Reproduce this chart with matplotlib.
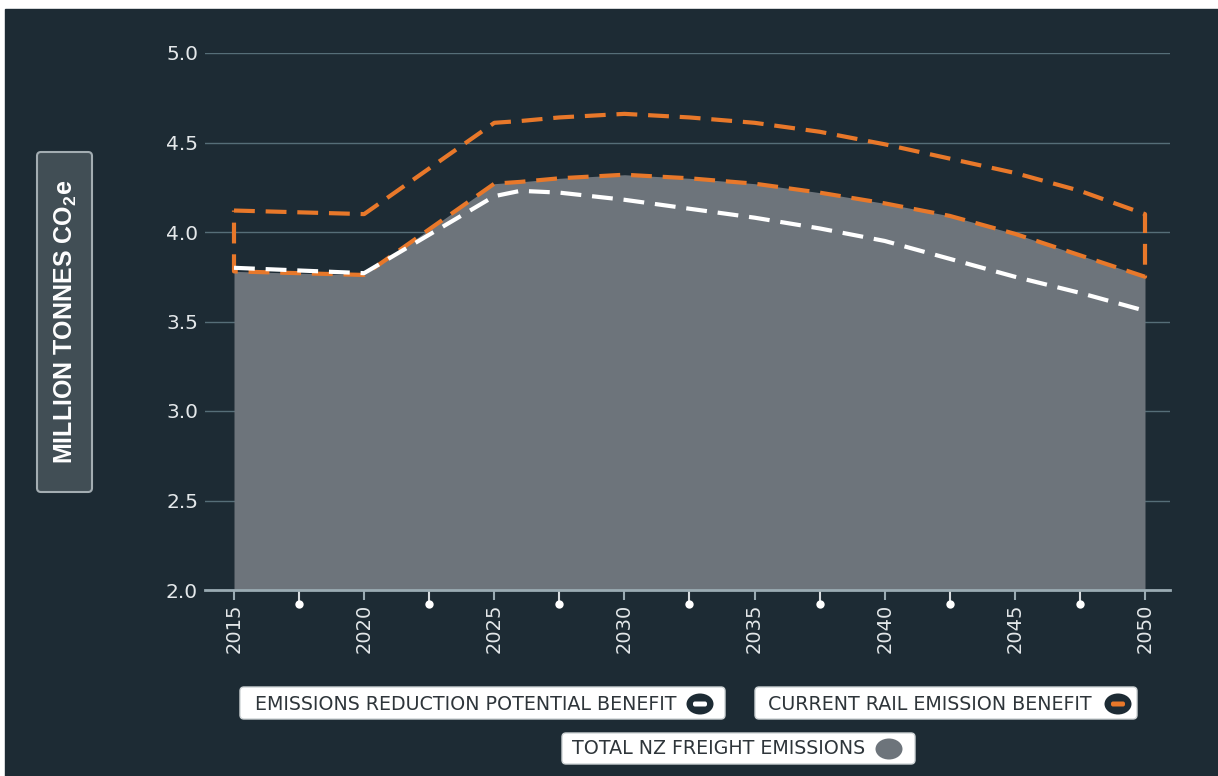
import matplotlib
matplotlib.use("Agg")
import matplotlib.pyplot as plt
from matplotlib import font_manager
from matplotlib.patches import FancyBboxPatch, Rectangle, Ellipse

# values (million tonnes CO2e)
years = [2015, 2020, 2025, 2026, 2027.5, 2030, 2032.5, 2035, 2037.5, 2040, 2042.5, 2045, 2047.5, 2050]
total_freight = [3.78, 3.76, 4.27, 4.28, 4.30, 4.32, 4.30, 4.27, 4.22, 4.16, 4.09, 3.99, 3.87, 3.75]
with_rail_benefit = [4.12, 4.10, 4.61, 4.62, 4.64, 4.66, 4.64, 4.61, 4.56, 4.49, 4.41, 4.33, 4.23, 4.10]
reduction_potential = [3.80, 3.77, 4.20, 4.23, 4.22, 4.18, 4.13, 4.08, 4.02, 3.95, 3.85, 3.75, 3.66, 3.56]

major_years = [2015, 2020, 2025, 2030, 2035, 2040, 2045, 2050]
minor_years = [2017.5, 2022.5, 2027.5, 2032.5, 2037.5, 2042.5, 2047.5]
y_ticks = [2.0, 2.5, 3.0, 3.5, 4.0, 4.5, 5.0]

legend_labels = ["EMISSIONS REDUCTION POTENTIAL BENEFIT", "CURRENT RAIL EMISSION BENEFIT", "TOTAL NZ FREIGHT EMISSIONS"]

bg = "#1d2b34"
grey = "#6d747b"
orange = "#e8782a"
light = "#e4e8ea"

W, H = 1218, 776

def has_font(name):
    try:
        font_manager.findfont(name, fallback_to_default=False)
        return True
    except Exception:
        return False

if has_font("Liberation Sans Narrow"):
    label_font, label_size = "Liberation Sans Narrow", 22
else:
    label_font, label_size = "Liberation Sans", 18

plt.rcParams["font.family"] = ["DejaVu Sans"]
plt.rcParams["mathtext.default"] = "regular"

fig = plt.figure(figsize=(W / 100, H / 100), dpi=100)
fig.patch.set_facecolor("white")
fig.add_artist(Rectangle((5 / 100, 0), (W - 5) / 100, (H - 9) / 100,
                         transform=fig.dpi_scale_trans, color=bg, zorder=-10))

ax = fig.add_axes([205 / W, 1 - 590 / H, (1170 - 205) / W, (590 - 53) / H])
ax.set_facecolor("none")
ax.set_xlim(2015 - 29 / 26.03, 2050 + 25 / 26.03)
ax.set_ylim(2.0, 5.0)

# total freight emissions area
ax.fill_between(years, 2.0, total_freight, color=grey, lw=0, zorder=2)

# current rail benefit: closed dashed outline between total and total+benefit
ox = years + years[::-1] + [years[0]]
oy = with_rail_benefit + total_freight[::-1] + [with_rail_benefit[0]]
ax.plot(ox, oy, color=orange, lw=3, dashes=(5, 2.6), zorder=3, clip_on=False)

# emissions reduction potential
ax.plot(years, reduction_potential, color="white", lw=3, dashes=(5, 2.6), zorder=4)

ax.set_yticks(y_ticks)
ax.set_yticklabels(["%.1f" % v for v in y_ticks])
ax.yaxis.grid(True, color="#566e78", lw=1)
ax.set_axisbelow(True)

ax.set_xticks(major_years)
ax.set_xticks(minor_years, minor=True)
ax.tick_params(axis="x", which="major", length=7, width=1.5, color="#9aabb3",
               labelrotation=90, labelsize=14, labelcolor=light, pad=3)
ax.tick_params(axis="x", which="minor", length=9, width=1.5, color="#d8dde0")
ax.tick_params(axis="y", length=0, labelsize=14.5, labelcolor=light, pad=5)
ax.scatter(minor_years, [-0.027] * len(minor_years), transform=ax.get_xaxis_transform(),
           s=36, color="white", clip_on=False, zorder=5, linewidths=0)

for s in ["top", "right", "left"]:
    ax.spines[s].set_visible(False)
ax.spines["bottom"].set_color("#9aabb3")
ax.spines["bottom"].set_linewidth(2)

# y label in a box
def px_box(x0, y0, x1, y1, fc, ec, lw=1.0, r=4):
    fig.add_artist(FancyBboxPatch((x0 / 100, (H - y1) / 100), (x1 - x0) / 100, (y1 - y0) / 100,
                                  boxstyle="round,pad=0,rounding_size=%f" % (r / 100),
                                  transform=fig.dpi_scale_trans, fc=fc, ec=ec, lw=lw))

px_box(37, 152, 92, 492, "#414e55", "#a3adb2", lw=1.5)
fig.text(66 / W, 1 - 322 / H, "MILLION TONNES CO$_2$e", rotation=90, ha="center", va="center",
         fontsize=label_size, fontweight="bold", color="white", family=[label_font, "DejaVu Sans"])

# legend boxes
px_box(240, 687, 725, 719, "white", "#cfd4d6", lw=1)
px_box(755, 687, 1137, 719, "white", "#cfd4d6", lw=1)
px_box(562, 733, 915, 764, "white", "#cfd4d6", lw=1)

fig.text(255 / W, 1 - 704 / H, legend_labels[0], ha="left", va="center", fontsize=13.7, color="#2e353a")
fig.text(768 / W, 1 - 704 / H, legend_labels[1], ha="left", va="center", fontsize=13.7, color="#2e353a")
fig.text(572 / W, 1 - 749 / H, legend_labels[2], ha="left", va="center", fontsize=13.7, color="#2e353a")

def icon(cx, cy, fc, bar=None):
    fig.add_artist(Ellipse((cx / 100, (H - cy) / 100), 0.27, 0.21, transform=fig.dpi_scale_trans, fc=fc, lw=0))
    if bar is not None:
        fig.add_artist(FancyBboxPatch(((cx - 7) / 100, (H - cy - 2.5) / 100), 0.14, 0.05,
                                      boxstyle="round,pad=0,rounding_size=0.02",
                                      transform=fig.dpi_scale_trans, fc=bar, lw=0))

icon(700, 704, bg, "white")
icon(1118, 704, bg, orange)
icon(889, 749, grey)

fig.savefig("out.png", dpi=100, facecolor=fig.get_facecolor())
